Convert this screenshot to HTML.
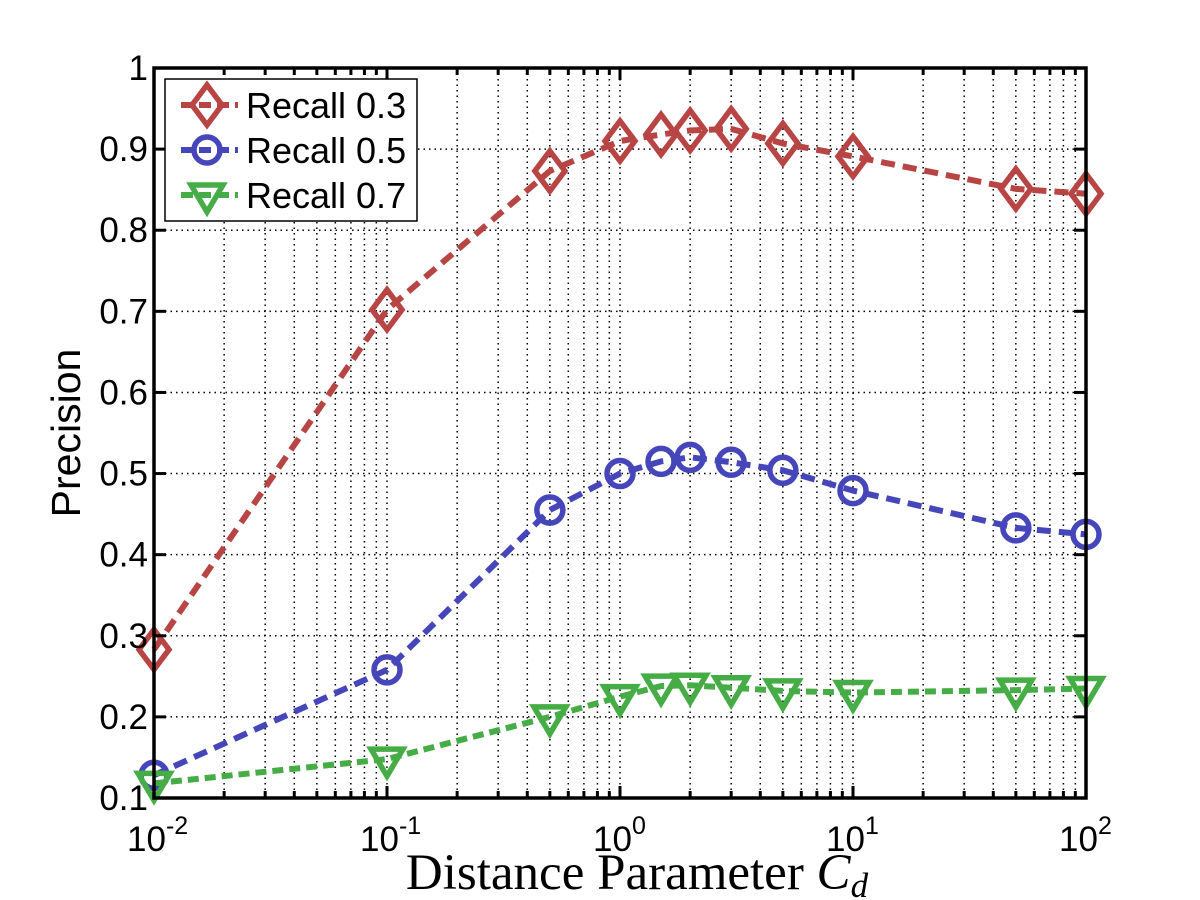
<!DOCTYPE html>
<html><head><meta charset="utf-8"><style>
html,body{margin:0;padding:0;background:#fff;}
svg{display:block;}
</style></head><body>
<svg id="chart" width="1200" height="900" xmlns="http://www.w3.org/2000/svg">
<rect x="0" y="0" width="1200" height="900" fill="#fff"/>
<g id="grid"></g>
<g id="series"></g>
<g id="axes"></g>
<text x="0" y="0" transform="translate(80,433) rotate(-90)" text-anchor="middle" font-family="Liberation Sans, sans-serif" font-size="41">Precision</text>
<text x="637" y="889" text-anchor="middle" font-family="Liberation Serif, serif" font-size="51">Distance Parameter <tspan font-style="italic">C</tspan><tspan font-style="italic" font-size="35" dy="8">d</tspan></text>
<g id="legend"></g>
</svg>
<script>
const xValues = [0.01, 0.1, 0.5, 1, 1.5, 2, 3, 5, 10, 50, 100];
const recall03 = [0.283, 0.702, 0.873, 0.910, 0.918, 0.923, 0.925, 0.907, 0.891, 0.851, 0.845];
const recall05 = [0.128, 0.258, 0.455, 0.500, 0.515, 0.520, 0.514, 0.504, 0.479, 0.433, 0.425];
const recall07 = [0.118, 0.148, 0.200, 0.225, 0.238, 0.239, 0.236, 0.232, 0.230, 0.233, 0.235];
const yTicks = [0.1, 0.2, 0.3, 0.4, 0.5, 0.6, 0.7, 0.8, 0.9, 1];
const yTickLabels = ["0.1","0.2","0.3","0.4","0.5","0.6","0.7","0.8","0.9","1"];
const xDecades = [-2, -1, 0, 1, 2];
const seriesNames = ["Recall 0.3", "Recall 0.5", "Recall 0.7"];

const NS = "http://www.w3.org/2000/svg";
const L = 154, R = 1086, T = 68, B = 798;
function xs(v){ return L + (Math.log10(v) + 2) / 4 * (R - L); }
function ys(v){ return B - (v - 0.1) / 0.9 * (B - T); }
function mk(tag, attrs, parent){ const e = document.createElementNS(NS, tag); for (const k in attrs) e.setAttribute(k, attrs[k]); parent.appendChild(e); return e; }

const grid = document.getElementById('grid');
const axes = document.getElementById('axes');
for (let d = -2; d < 2; d++) {
  for (let m = 1; m <= 9; m++) {
    const x = xs(m * Math.pow(10, d));
    if (!(d === -2 && m === 1)) {
      const g = mk('line', {x1:x, y1:T, x2:x, y2:B, stroke:'#000', 'stroke-width':1.5, 'stroke-dasharray':'1.5,4'}, grid);
      
      
    }
    const len = m === 1 ? 12 : 7;
    const t1 = mk('line', {x1:x, y1:B, x2:x, y2:B - len, stroke:'#000', 'stroke-width':3}, axes);
    
    
    const t2 = mk('line', {x1:x, y1:T, x2:x, y2:T + len, stroke:'#000', 'stroke-width':3}, axes);
    
    
  }
}
yTicks.forEach((v, i) => {
  const y = ys(v);
  if (i > 0 && i < yTicks.length - 1) {
    const g = mk('line', {x1:L, y1:y, x2:R, y2:y, stroke:'#000', 'stroke-width':1.5, 'stroke-dasharray':'1.5,4'}, grid);
    
    
  }
  const t1 = mk('line', {x1:L, y1:y, x2:L + 12, y2:y, stroke:'#000', 'stroke-width':3}, axes);
  
  
  const t2 = mk('line', {x1:R, y1:y, x2:R - 12, y2:y, stroke:'#000', 'stroke-width':3}, axes);
  
  
  const tx = mk('text', {x:L - 6, y:y + 12, 'text-anchor':'end', 'font-family':'Liberation Sans, sans-serif', 'font-size':35}, axes);
  tx.textContent = yTickLabels[i];
  
  
});
xDecades.forEach(d => {
  const x = xs(Math.pow(10, d));
  const tx = mk('text', {x:x - 27, y:851, 'font-family':'Liberation Sans, sans-serif', 'font-size':35}, axes);
  tx.textContent = '10';
  
  
  const sup = mk('tspan', {dy:-17, 'font-size':25}, tx);
  sup.textContent = String(d);
});
const frame = mk('rect', {x:L, y:T, width:R - L, height:B - T, fill:'none', stroke:'#000', 'stroke-width':3.5}, axes);



const colors = ['#b84444', '#4646bb', '#46ad46'];
const dashes = ['14,8', '14,8', '11,6'];
function marker(type, cx, cy, color, parent){
  let e;
  if (type === 0) e = mk('polygon', {points:`${cx},${cy-20} ${cx+15},${cy} ${cx},${cy+20} ${cx-15},${cy}`, fill:'none', stroke:color, 'stroke-width':5.5}, parent);
  else if (type === 1) e = mk('circle', {cx:cx, cy:cy, r:13, fill:'none', stroke:color, 'stroke-width':5.5}, parent);
  else e = mk('polygon', {points:`${cx-16},${cy-10} ${cx+16},${cy-10} ${cx},${cy+17}`, fill:'none', stroke:color, 'stroke-width':5.5}, parent);
  return e;
}
const seriesG = document.getElementById('series');
[recall03, recall05, recall07].forEach((arr, s) => {
  const g = mk('g', {}, seriesG);
  
  
  const pts = arr.map((v, i) => xs(xValues[i]) + ',' + ys(v)).join(' ');
  const pl = mk('polyline', {points:pts, fill:'none', stroke:colors[s], 'stroke-width':6, 'stroke-dasharray':dashes[s]}, g);
  
  
  arr.forEach((v, i) => {
    const m = marker(s, xs(xValues[i]), ys(v), colors[s], g);
    
    
  });
});

const leg = document.getElementById('legend');
const box = mk('rect', {x:165, y:79, width:252, height:142, fill:'#fff', stroke:'#000', 'stroke-width':1.5}, leg);


seriesNames.forEach((n, s) => {
  const cy = 105 + s * 45;
  const g = mk('g', {}, leg);
  
  
  mk('line', {x1:181, y1:cy, x2:238, y2:cy, stroke:colors[s], 'stroke-width':6, 'stroke-dasharray':'12,6'}, g);
  marker(s, 207, cy, colors[s], g);
  const t = mk('text', {x:246, y:cy + 13, 'font-family':'Liberation Sans, sans-serif', 'font-size':36}, g);
  t.textContent = n;
});
</script>
</body></html>
